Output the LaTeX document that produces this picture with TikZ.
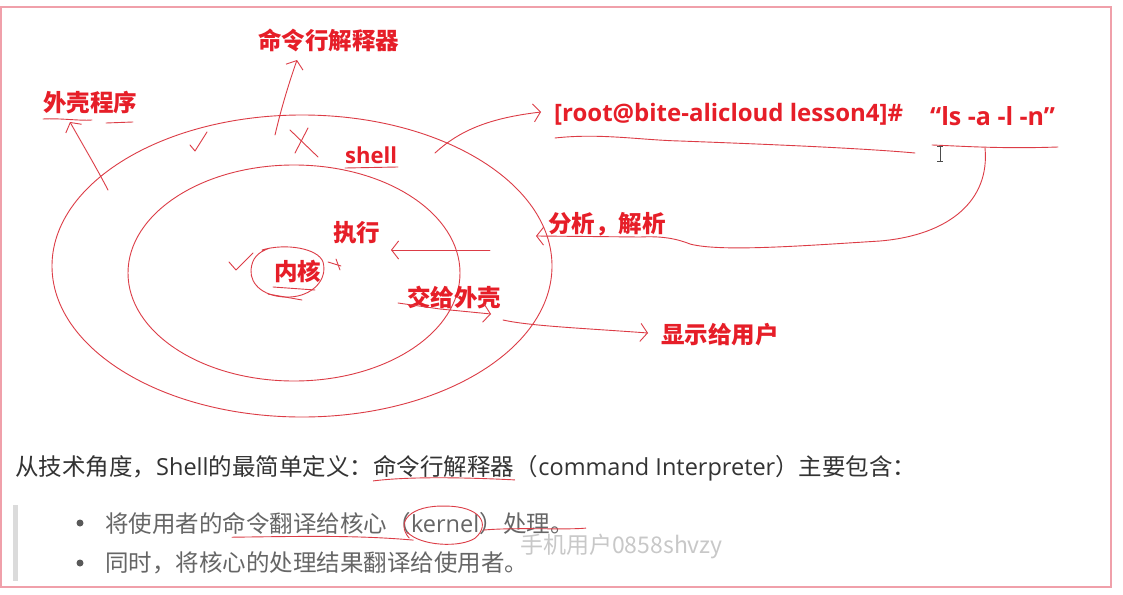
\documentclass[tikz,border=0pt]{standalone}
\usepackage{fontspec}
\setmainfont{Open Sans}
\newfontfamily\cjk{Noto Sans CJK SC}
\usetikzlibrary{arrows.meta,calc}
\definecolor{lblred}{RGB}{230,30,40}
\definecolor{inkred}{RGB}{220,60,70}
\definecolor{frame}{RGB}{240,160,170}
\definecolor{txt}{RGB}{51,51,51}
\definecolor{wm}{RGB}{200,200,200}
\begin{document}
\begin{tikzpicture}[x=1pt,y=-1pt,
  lbl/.style={font=\cjk\bfseries\fontsize{23.5}{23.5}\selectfont, text=lblred, inner sep=0pt, anchor=west},
  lat/.style={font=\bfseries\fontsize{24}{24}\selectfont, text=lblred, inner sep=0pt, anchor=west},
  body/.style={font=\cjk\fontsize{23.5}{23.5}\selectfont, text=txt, inner sep=0pt, anchor=west},
  cont/.style={font=\cjk\fontsize{23.5}{23.5}\selectfont, inner sep=0pt, anchor=base west},
  ink/.style={draw=inkred, line width=0.9pt, line cap=round, line join=round},
  tip/.style={-{Straight Barb[length=7pt,width=18pt,line width=0.9pt]}}]
\useasboundingbox (0,0) rectangle (1123,594);
\fill[white] (0,0) rectangle (1123,594);
% frame
\draw[frame, line width=1.8pt] (1,7) rectangle (1111,587);

% ellipses
\draw[ink] (302,266) ellipse [x radius=250pt, y radius=151pt];
\draw[ink] (294,273) ellipse [x radius=166pt, y radius=108pt];

% labels
\node[lbl] (wk) at (43,103) {外壳程序};
\node[lbl] (mlj) at (258,40) {命令行解释器};
\node[lat, font=\bfseries\fontsize{22}{22}\selectfont] (shell) at (345,155) {shell};
\node[lat] (root) at (554,114) {[root@bite-alicloud lesson4]\#};
\node[lat, font=\bfseries\fontsize{25}{25}\selectfont] (ls) at (930,116) {“ls -a -l -n”};
\node[lbl] (fx) at (548,224) {分析，解析};
\node[lbl] (zx) at (333,233) {执行};
\node[lbl] (nh) at (274,271) {内核};
\node[lbl] (jg) at (407,298) {交给外壳};
\node[lbl] (xs) at (661,335) {显示给用户};

% 外壳程序 arrow + underline
\coordinate (a1s) at (108,190); \coordinate (a1e) at (70,122);
\draw[ink,tip] (a1s) .. controls (95,165) and (80,140) .. (a1e);
\draw[ink] (43,119) .. controls (60,118) and (80,121) .. (92,120);
\draw[ink] (106,123) -- (133,122);
% checks
\draw[ink] (190,145) -- (195,151) -- (207,132);
\draw[ink] (229,262) -- (236,270) -- (253,253);
% 命令行解释器 arrow
\coordinate (a2s) at (275,135); \coordinate (a2e) at (297,60);
\draw[ink,tip] (a2s) .. controls (282,105) and (290,80) .. (a2e);
% X mark
\draw[ink] (290,130) -- (318,157);
\draw[ink] (308,128) -- (295,153);
% shell underline
\draw[ink] (345,168) -- (398,167);
% shell -> root
\coordinate (a3s) at (435,153); \coordinate (a3e) at (541,112);
\draw[ink,tip] (a3s) .. controls (460,130) and (490,118) .. (a3e);
% root underline
\draw[ink] (555,138) .. controls (600,133) and (640,140) .. (680,141) .. controls (760,144) and (860,148) .. (915,153);
% ls underline
\draw[ink] (932,145) .. controls (960,146) and (1000,149) .. (1058,147);
% big loop to 分析
\coordinate (a4s) at (985,148); \coordinate (a4e) at (536,236);
\draw[ink,tip] (a4s) .. controls (990,200) and (950,235) .. (880,241)
  .. controls (800,246) and (720,252) .. (690,244)
  .. controls (675,238) and (660,236) .. (640,237) -- (a4e);
% 分析 -> 执行
\coordinate (a5s) at (490,250); \coordinate (a5e) at (391,250);
\draw[ink,tip] (a5s) -- (a5e);
% kernel circle
\draw[ink] (262,250) .. controls (285,243) and (318,248) .. (323,262)
  .. controls (328,280) and (312,296) .. (290,297)
  .. controls (265,298) and (250,285) .. (251,270)
  .. controls (252,258) and (258,252) .. (270,248);
\draw[ink] (273,287) -- (315,290);
\draw[ink] (268,294) -- (302,300);
\draw[ink] (328,262) -- (341,266);
\draw[ink] (336,259) -- (340,270);
% 交给外壳 arrow
\coordinate (a6s) at (398,303); \coordinate (a6e) at (491,314);
\draw[ink,tip] (a6s) -- (440,309) -- (a6e);
% 显示给用户 arrow
\coordinate (a7s) at (503,320); \coordinate (a7e) at (648,333);
\draw[ink,tip] (a7s) .. controls (530,326) and (580,328) .. (a7e);

% cursor I-beam
\draw[black!70, line width=0.8pt] (940,146) -- (940,161) (937,146) -- (943,146) (937,161) -- (943,161);

% bottom text
\node[body] (l1a) at (15,467) {从技术角度，\fontspec{Open Sans}Shell\cjk 的最简单定义：};
\node[cont, text=txt] (l1b) at (l1a.base east) {命令行解释器};
\node[cont, text=txt] (l1c) at (l1b.base east) {（\fontspec{Open Sans}command Interpreter\cjk ）主要包含：};
\draw[ink] ($(l1b.south west)+(0,3)$) .. controls ($(l1b.south west)+(40,-2)$) and ($(l1b.south east)+(-40,0)$) .. ($(l1b.south east)+(0,2)$);
\fill[black!14] (13,505) rectangle (18,581);
\fill[black!65] (80,523) circle[radius=3.5pt];
\fill[black!65] (80,563) circle[radius=3.5pt];
\node[body, text=black!60] (b1a) at (105,523) {将使用者的命令翻译给核心};
\node[cont, text=black!60] (b1k) at (b1a.base east) {（\fontspec{Open Sans}kernel\cjk ）};
\node[cont, text=black!60] (b1c) at (b1k.base east) {处理。};
\node[body, text=black!60] (b2) at (105,563) {同时，将核心的处理结果翻译给使用者。};
\node[font=\cjk\fontsize{23}{23}\selectfont, text=wm, inner sep=0pt, anchor=west] (wmk) at (520,546) {手机用户0858shvzy};
% kernel circle in text
\coordinate (kc) at ($(b1k.center)+(0,1)$);
\draw[ink] ($(kc)+(-36,14)$) .. controls ($(kc)+(-50,-2)$) and ($(kc)+(-35,-19)$) .. ($(kc)+(0,-18)$)
  .. controls ($(kc)+(35,-18)$) and ($(kc)+(46,0)$) .. ($(kc)+(30,14)$)
  .. controls ($(kc)+(15,24)$) and ($(kc)+(-25,22)$) .. ($(kc)+(-38,8)$);
\draw[ink] ($(b1a.south west)!0.45!(b1a.south east)+(0,3)$) .. controls ($(b1a.south east)+(-80,2)$) and ($(b1a.south east)+(-30,1)$) .. ($(kc)+(-32,16)$);
\draw[ink] ($(kc)+(38,6)$) .. controls ($(kc)+(70,3)$) and ($(b1c.south east)+(-10,-4)$) .. ($(b1c.south east)+(12,-6)$);
\end{tikzpicture}
\end{document}
